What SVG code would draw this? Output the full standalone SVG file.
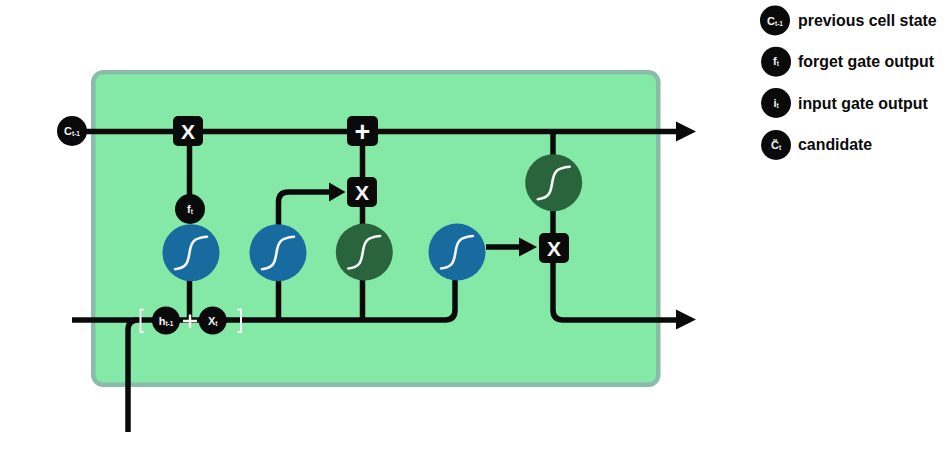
<svg xmlns="http://www.w3.org/2000/svg" width="950" height="450" viewBox="0 0 950 450">
<style>
text{font-family:"Liberation Sans",Arial,sans-serif;font-weight:700}
.w{stroke:#0a0a0a;stroke-width:5.5;fill:none}
.h{fill:#0a0a0a}
.dot{fill:#0a0a0a}
.dl{fill:#f4f4f4;font-size:11px;text-anchor:middle}
.sub{font-size:6.5px}
.op{fill:#f6f6f6;font-size:21px;text-anchor:middle}
.blue{fill:#176b9e}
.green{fill:#2a643c}
.s{fill:none;stroke:#f4f4f4;stroke-width:2.6;stroke-linecap:round}
.box{fill:#0a0a0a}
.leg{fill:#0a0a0a;font-size:15.900px}
.br{fill:none;stroke:#f4f4f4;stroke-width:2}
</style>
<defs>
<path id="sig" class="s" d="M-16,16.5C-3,15-3,8-1.5,0C0,-10,2,-15,16,-16"/>
</defs>
<rect id="cell" x="93.3" y="72.3" width="565" height="312.500" rx="10" fill="#84e8a6" stroke="#89bda9" stroke-width="4.500"/>
<g id="connectors">
<path class="w" d="M72,131.500H677"/>
<path class="h" d="M676,121.500L696,131.500L676,141.500Z"/>
<path class="w" d="M189.500,146V200"/>
<path class="w" d="M189.500,278V320"/>
<path class="w" d="M72,320H445Q455,320,455,310V280"/>
<path class="w" d="M128,432V330Q128,320,138,320"/>
<path class="w" d="M278.500,320V226"/>
<path class="w" d="M278.500,226V202Q278.500,192,288.500,192H332"/>
<path class="h" d="M329,182.500L345.500,192L329,201.500Z"/>
<path class="w" d="M362.500,146V320"/>
<path class="w" d="M486,247H520"/>
<path class="h" d="M519,237.500L537,247L519,256.500Z"/>
<path class="w" d="M553,131.500V155"/>
<path class="w" d="M553,210V310Q553,320,563,320H677"/>
<path class="h" d="M676,309.500L696,319.500L676,329.500Z"/>
</g>
<g id="node-ct1"><circle class="dot" cx="72" cy="131" r="15"/><text class="dl" x="72" y="135">C<tspan class="sub" dy="1">t-1</tspan></text></g>
<g id="node-forget-x"><rect class="box" x="173" y="116" width="30" height="30" rx="5"/><text class="op" x="188" y="138.500">X</text></g>
<g id="node-plus"><rect class="box" x="347" y="116" width="31" height="30" rx="5"/><text class="op" x="362.500" y="140.500" style="font-size:27px">+</text></g>
<g id="node-input-x"><rect class="box" x="347" y="177" width="30" height="30" rx="5"/><text class="op" x="362" y="199.500">X</text></g>
<g id="node-output-x"><rect class="box" x="539" y="233" width="30" height="30" rx="5"/><text class="op" x="554" y="255.500">X</text></g>
<g id="node-ft"><circle class="dot" cx="190" cy="209" r="15"/><text class="dl" x="190" y="212.500">f<tspan class="sub" dy="1">t</tspan></text></g>
<g id="node-sig1" transform="translate(191,252.700)"><circle class="blue" r="28.500"/><use href="#sig"/></g>
<g id="node-sig2" transform="translate(278,252.700)"><circle class="blue" r="28.500"/><use href="#sig"/></g>
<g id="node-sig3" transform="translate(364.300,252)"><circle class="green" r="28.500"/><use href="#sig"/></g>
<g id="node-sig4" transform="translate(457,252)"><circle class="blue" r="28.500"/><use href="#sig"/></g>
<g id="node-sig5" transform="translate(553.700,182.700)"><circle class="green" r="28.500"/><use href="#sig"/></g>
<g id="node-input">
<path class="br" d="M144,309.500H140.500V332H144"/>
<path class="br" d="M237.500,309.500H241V332H237.500"/>
<path d="M183,321H197M190,314.500V328" stroke="#f4f4f4" stroke-width="2.500" fill="none"/>
<circle class="dot" cx="166" cy="320.500" r="14"/><text class="dl" x="166" y="324.500">h<tspan class="sub" dy="1">t-1</tspan></text>
<circle class="dot" cx="212.700" cy="320.500" r="14"/><text class="dl" x="212.700" y="324.500">X<tspan class="sub" dy="1">t</tspan></text>
</g>
<g id="legend-c"><circle class="dot" cx="775" cy="20.500" r="15"/><text class="dl" x="775" y="24.500">C<tspan class="sub" dy="1">t-1</tspan></text><text class="leg" x="798" y="25.500">previous cell state</text></g>
<g id="legend-f"><circle class="dot" cx="776" cy="61.700" r="15"/><text class="dl" x="776" y="65">f<tspan class="sub" dy="1">t</tspan></text><text class="leg" x="798" y="67">forget gate output</text></g>
<g id="legend-i"><circle class="dot" cx="776" cy="103" r="15"/><text class="dl" x="776" y="106.500">i<tspan class="sub" dy="1">t</tspan></text><text class="leg" x="798" y="108.500">input gate output</text></g>
<g id="legend-cand"><circle class="dot" cx="776" cy="145" r="15"/><text class="dl" x="776" y="149">C̃<tspan class="sub" dy="1">t</tspan></text><text class="leg" x="798" y="150">candidate</text></g>
</svg>
